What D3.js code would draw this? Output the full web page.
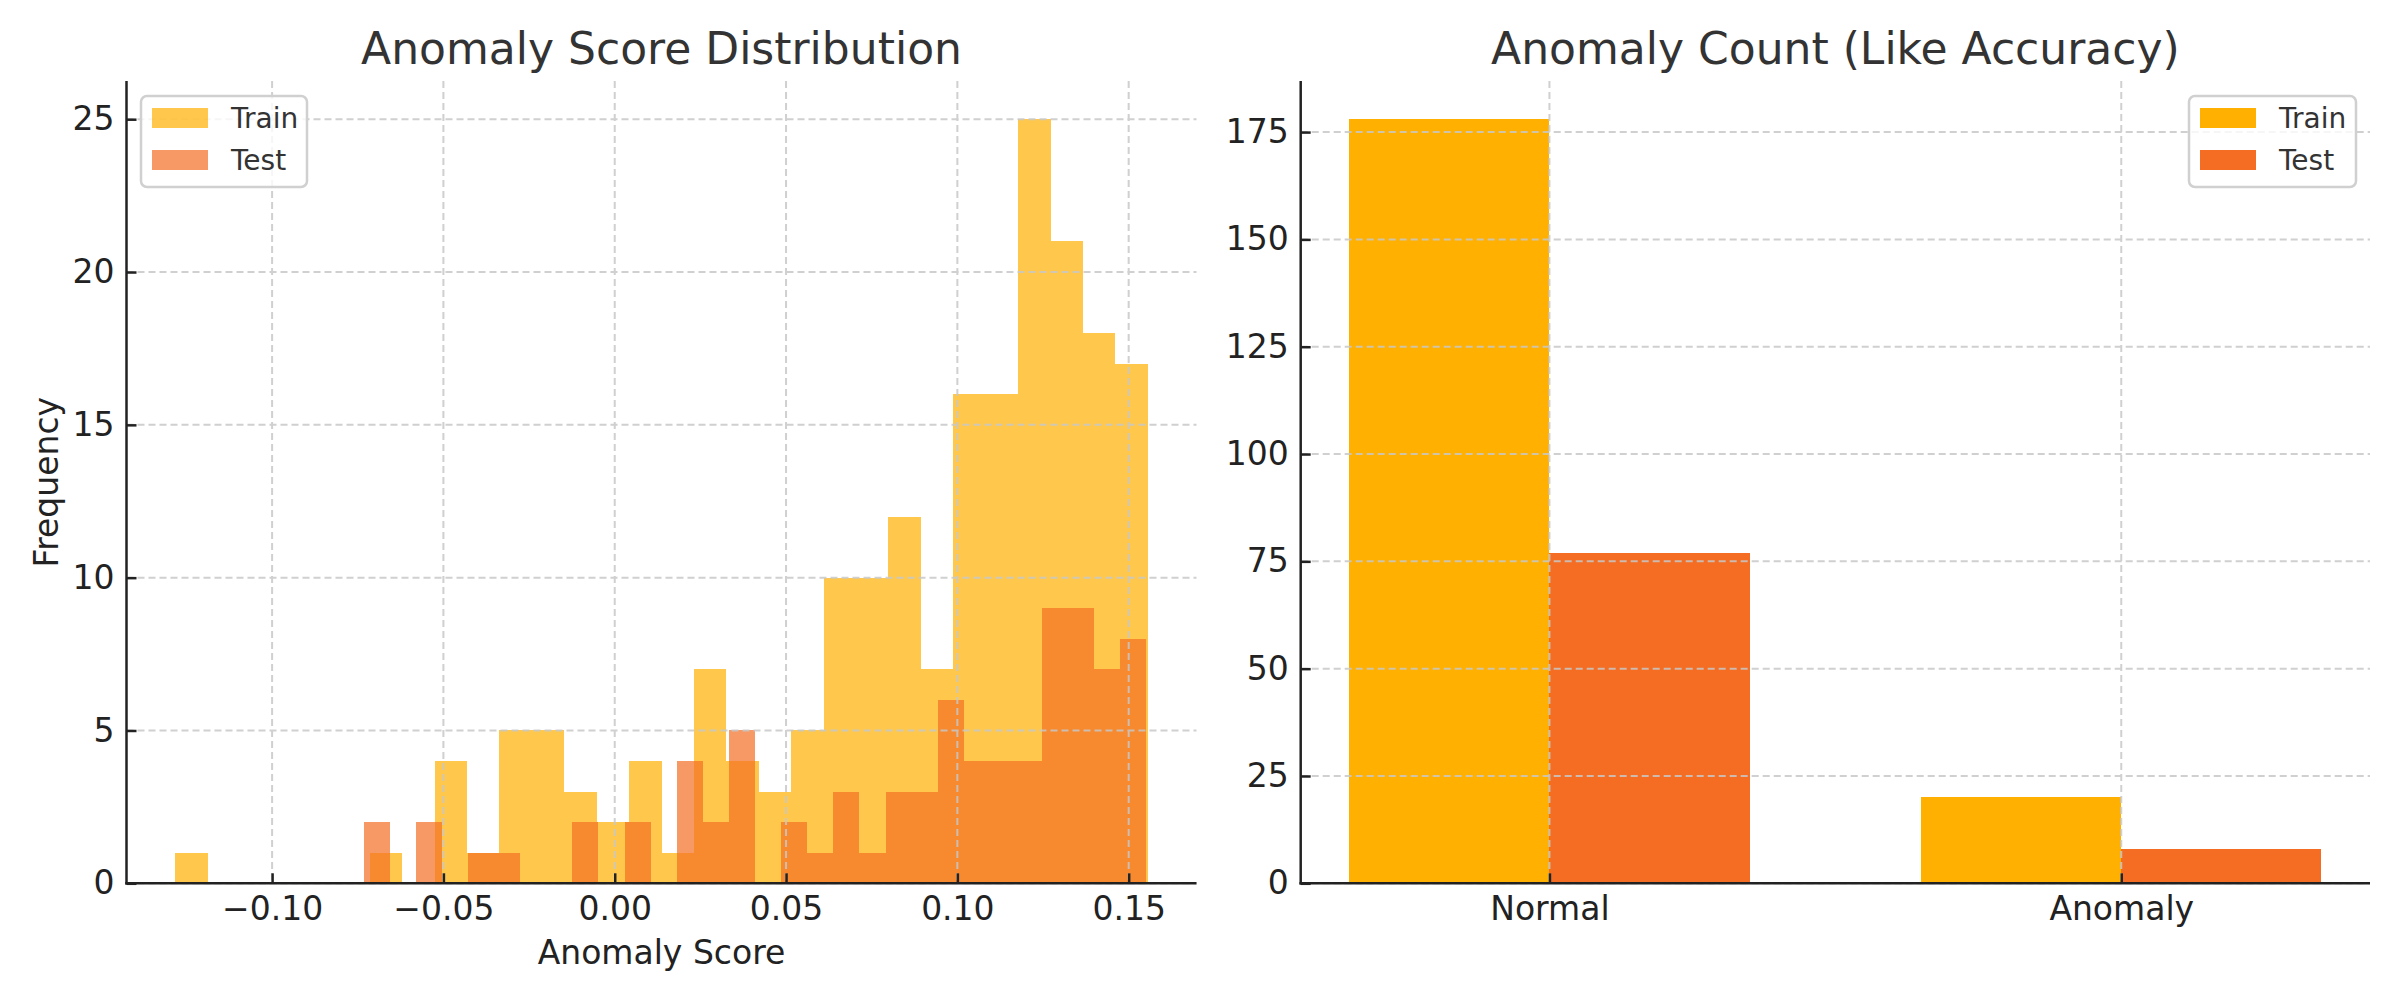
<!DOCTYPE html>
<html>
<head>
<meta charset="utf-8">
<script src="https://cdn.jsdelivr.net/npm/d3@7"></script>
<style>
  body { margin: 0; background: #fff; }
  svg text { font-family: "DejaVu Sans", sans-serif; }
</style>
</head>
<body>
<svg id="chart" width="2400" height="1000"></svg>
<script>
// histogram counts (30 bins each)
var trainCounts = [1,0,0,0,0,0,1,0,4,1,5,5,3,2,4,1,7,4,3,5,10,10,12,7,16,16,25,21,18,17];
var testCounts  = [2,0,2,0,1,1,0,0,2,0,2,0,4,2,5,0,2,1,3,1,3,3,6,4,4,4,9,9,7,8];
var trainRange = [-0.1283, 0.1556];
var testRange  = [-0.0733, 0.1552];
var histXTicks = [-0.10, -0.05, 0.00, 0.05, 0.10, 0.15];
var histYTicks = [0, 5, 10, 15, 20, 25];

// bar chart
var classes = ["Normal", "Anomaly"];
var trainClassCounts = [178, 20];
var testClassCounts  = [77, 8];
var barYTicks = [0, 25, 50, 75, 100, 125, 150, 175];

var trainColor = "#FFB000";
var testColor = "#F46D22";

var svg = d3.select("#chart");

var plotTop = 81, plotBottom = 883.3;

// ---------- left: histogram ----------
var L = { x0: 126.5, x1: 1196.5 };
var lo = Math.min(trainRange[0], testRange[0]);
var hi = Math.max(trainRange[1], testRange[1]);
var pad = (hi - lo) * 0.05;
var x1 = d3.scaleLinear().domain([lo - pad, hi + pad]).range([L.x0, L.x1]);
var y1 = d3.scaleLinear().domain([0, d3.max(trainCounts.concat(testCounts)) * 1.05]).range([plotBottom, plotTop]);

function makeBins(counts, range) {
    var w = (range[1] - range[0]) / counts.length;
    return counts.map(function(c, i) {
        return { x0: range[0] + i * w, x1: range[0] + (i + 1) * w, n: c };
    });
}

var left = svg.append("g");

function drawHist(bins, color) {
    left.append("g").attr("shape-rendering", "crispEdges").selectAll("rect")
        .data(bins.filter(function(d) { return d.n > 0; }))
        .enter().append("rect")
        .attr("x", function(d) { return x1(d.x0); })
        .attr("width", function(d) { return x1(d.x1) - x1(d.x0); })
        .attr("y", function(d) { return y1(d.n); })
        .attr("height", function(d) { return y1(0) - y1(d.n); })
        .attr("fill", color)
        .attr("fill-opacity", 0.7);
}
drawHist(makeBins(trainCounts, trainRange), trainColor);
drawHist(makeBins(testCounts, testRange), testColor);

function grid(g, xs, ys, xScale, yScale, x0, x2) {
    var gg = g.append("g").attr("stroke", "#c8c8c8").attr("stroke-width", 2)
        .attr("stroke-dasharray", "7,4").attr("opacity", 0.85);
    gg.selectAll(".gx").data(xs).enter().append("line")
        .attr("x1", xScale).attr("x2", xScale)
        .attr("y1", plotTop).attr("y2", plotBottom);
    gg.selectAll(".gy").data(ys).enter().append("line")
        .attr("x1", x0).attr("x2", x2)
        .attr("y1", yScale).attr("y2", yScale);
}
grid(left, histXTicks, histYTicks, x1, y1, L.x0, L.x1);

function axes(g, xScale, yScale, xTicks, yTicks, xFmt, yFmt, x0, x2) {
    var ax = d3.axisBottom(xScale).tickValues(xTicks).tickFormat(xFmt)
        .tickSizeInner(-10).tickSizeOuter(0).tickPadding(13);
    var gx = g.append("g").attr("transform", "translate(0," + plotBottom + ")").call(ax);
    var ay = d3.axisLeft(yScale).tickValues(yTicks).tickFormat(yFmt)
        .tickSizeInner(-10).tickSizeOuter(0).tickPadding(12);
    var gy = g.append("g").attr("transform", "translate(" + x0 + ",0)").call(ay);
    [gx, gy].forEach(function(s) {
        s.select(".domain").remove();
        s.selectAll(".tick line").attr("stroke", "#222").attr("stroke-width", 2.5);
        s.selectAll(".tick text").attr("fill", "#222").attr("font-size", 33);
    });
    g.append("line").attr("x1", x0).attr("x2", x0).attr("y1", plotTop).attr("y2", plotBottom + 1.25)
        .attr("stroke", "#222").attr("stroke-width", 2.5);
    g.append("line").attr("x1", x0 - 1.25).attr("x2", x2).attr("y1", plotBottom).attr("y2", plotBottom)
        .attr("stroke", "#222").attr("stroke-width", 2.5);
}
axes(left, x1, y1, histXTicks, histYTicks, d3.format(".2f"), d3.format("d"), L.x0, L.x1);

left.append("text").attr("x", (L.x0 + L.x1) / 2).attr("y", 64)
    .attr("text-anchor", "middle").attr("font-size", 44).attr("fill", "#333")
    .text("Anomaly Score Distribution");
left.append("text").attr("x", (L.x0 + L.x1) / 2).attr("y", 964)
    .attr("text-anchor", "middle").attr("font-size", 33).attr("fill", "#222")
    .text("Anomaly Score");
left.append("text")
    .attr("transform", "translate(" + 58 + "," + ((plotTop + plotBottom) / 2) + ") rotate(-90)")
    .attr("text-anchor", "middle").attr("font-size", 33).attr("fill", "#222")
    .text("Frequency");

function legend(g, bx, bw, opacity) {
    g.append("rect").attr("x", bx).attr("y", 96).attr("width", bw).attr("height", 91)
        .attr("rx", 6).attr("fill", "#fff").attr("fill-opacity", 0.8)
        .attr("stroke", "#d0d0d0").attr("stroke-width", 2.5);
    var items = [["Train", trainColor], ["Test", testColor]];
    items.forEach(function(it, i) {
        var yy = 108 + i * 42;
        g.append("rect").attr("x", bx + 11).attr("y", yy).attr("width", 56).attr("height", 20)
            .attr("fill", it[1]).attr("fill-opacity", opacity);
        g.append("text").attr("x", bx + 90).attr("y", yy + 10).attr("dy", "0.36em")
            .attr("font-size", 28).attr("fill", "#333").text(it[0]);
    });
}
legend(left, 141, 166, 0.7);

// ---------- right: grouped bars ----------
var R = { x0: 1300.7, x1: 2370 };
var bw = 0.35;
var x2 = d3.scaleLinear().domain([-bw - 0.085, classes.length - 1 + bw + 0.085]).range([R.x0, R.x1]);
var y2 = d3.scaleLinear().domain([0, d3.max(trainClassCounts) * 1.05]).range([plotBottom, plotTop]);

var right = svg.append("g");
function drawBars(vals, offset, color) {
    right.append("g").attr("shape-rendering", "crispEdges").selectAll("rect")
        .data(vals).enter().append("rect")
        .attr("x", function(d, i) { return x2(i + offset); })
        .attr("width", function(d, i) { return x2(i + offset + bw) - x2(i + offset); })
        .attr("y", function(d) { return y2(d); })
        .attr("height", function(d) { return y2(0) - y2(d); })
        .attr("fill", color);
}
drawBars(trainClassCounts, -bw, trainColor);
drawBars(testClassCounts, 0, testColor);

var catIdx = classes.map(function(d, i) { return i; });
grid(right, catIdx, barYTicks, x2, y2, R.x0, R.x1);
axes(right, x2, y2, catIdx, barYTicks, function(i) { return classes[i]; }, d3.format("d"), R.x0, R.x1);

right.append("text").attr("x", (R.x0 + R.x1) / 2).attr("y", 64)
    .attr("text-anchor", "middle").attr("font-size", 44).attr("fill", "#333")
    .text("Anomaly Count (Like Accuracy)");

legend(right, 2189, 167, 1);
</script>
</body>
</html>
